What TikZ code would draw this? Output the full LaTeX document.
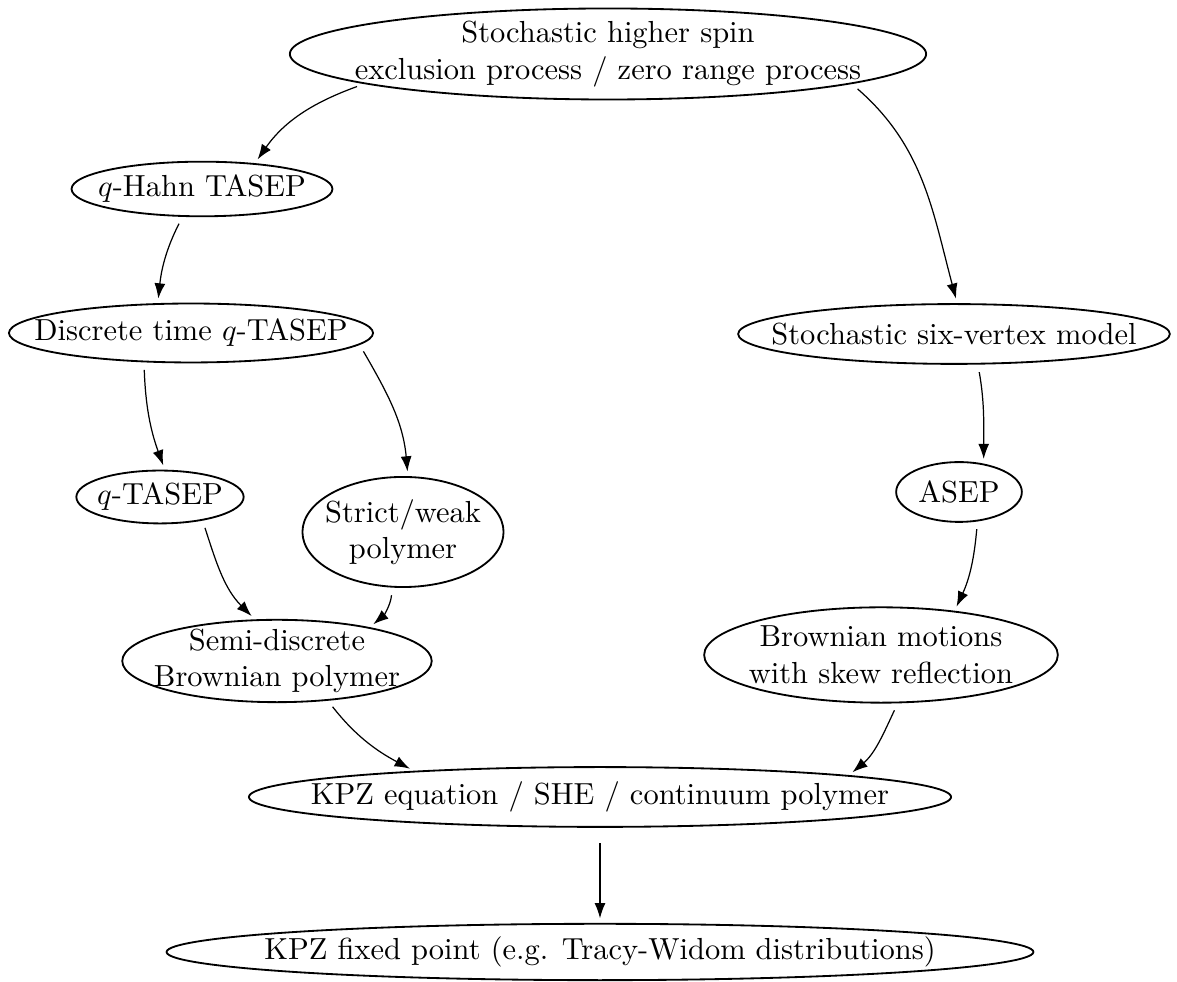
\documentclass[tikz,border=0pt]{standalone}
\usetikzlibrary{shapes.geometric,arrows.meta}
\tikzset{proc/.style={ellipse, draw, semithick, inner sep=-1cm, align=center},
  flow/.style={thin, -{Latex[length=5pt,width=3.6pt]}, shorten <=2.5pt, shorten >=1.5pt}}

\begin{document}
\begin{tikzpicture}[x=0.01153cm, y=-0.01153cm]
  \useasboundingbox (0,0) rectangle (1177,982);
  \node[proc, minimum width=7.34cm, minimum height=1.05cm] (hs) at (608,54) {Stochastic higher spin\\exclusion process / zero range process};
  \node[proc, minimum width=3.01cm, minimum height=0.63cm] (qh) at (202,189) {$q$-Hahn TASEP};
  \node[proc, minimum width=4.20cm, minimum height=0.68cm] (dt) at (191,333) {Discrete time $q$-TASEP};
  \node[proc, minimum width=4.98cm, minimum height=0.69cm] (sv) at (954,334) {Stochastic six-vertex model};
  \node[proc, minimum width=1.93cm, minimum height=0.61cm] (qt) at (160,497) {$q$-TASEP};
  \node[proc, minimum width=2.32cm, minimum height=1.27cm] (sw) at (403,532) {Strict/weak\\polymer};
  \node[proc, minimum width=1.45cm, minimum height=0.69cm] (as) at (959,492) {ASEP};
  \node[proc, minimum width=3.57cm, minimum height=0.95cm] (sd) at (277,661) {Semi-discrete\\Brownian polymer};
  \node[proc, minimum width=4.08cm, minimum height=1.10cm] (bm) at (881,655) {Brownian motions\\with skew reflection};
  \node[proc, minimum width=8.10cm, minimum height=0.69cm] (kpz) at (600,797) {KPZ equation / SHE / continuum polymer};
  \node[proc, minimum width=10.0cm, minimum height=0.65cm] (fp) at (600,952) {KPZ fixed point (e.g. Tracy-Widom distributions)};
  % left branch
  \draw[flow] (hs.187) to[out=200, in=55] (qh.26);
  \draw[flow] (qh.235) to[out=243, in=84] (dt.138);
  \draw[flow] (dt.212) to[out=272, in=110] (qt.80);
  \draw[flow] (dt.-4) to[out=-60, in=95] (sw.85);
  \draw[flow] (qt.-29) to[out=-72, in=135] (sd.118);
  \draw[flow] (sw.259) to[out=265, in=40] (sd.20);
  % right branch
  \draw[flow] (hs.-7) to[out=-41, in=105] (sv.84);
  \draw[flow] (sv.-52) to[out=-80, in=90] (as.49);
  \draw[flow] (as.-58) to[out=265, in=65] (bm.31);
  % bottom
  \draw[flow] (sd.-38) to[out=-52, in=152] (kpz.172);
  \draw[flow] (bm.-71) to[out=245, in=40] (kpz.5);
  \draw[flow, shorten <=5pt] (kpz) -- (fp);
\end{tikzpicture}
\end{document}
